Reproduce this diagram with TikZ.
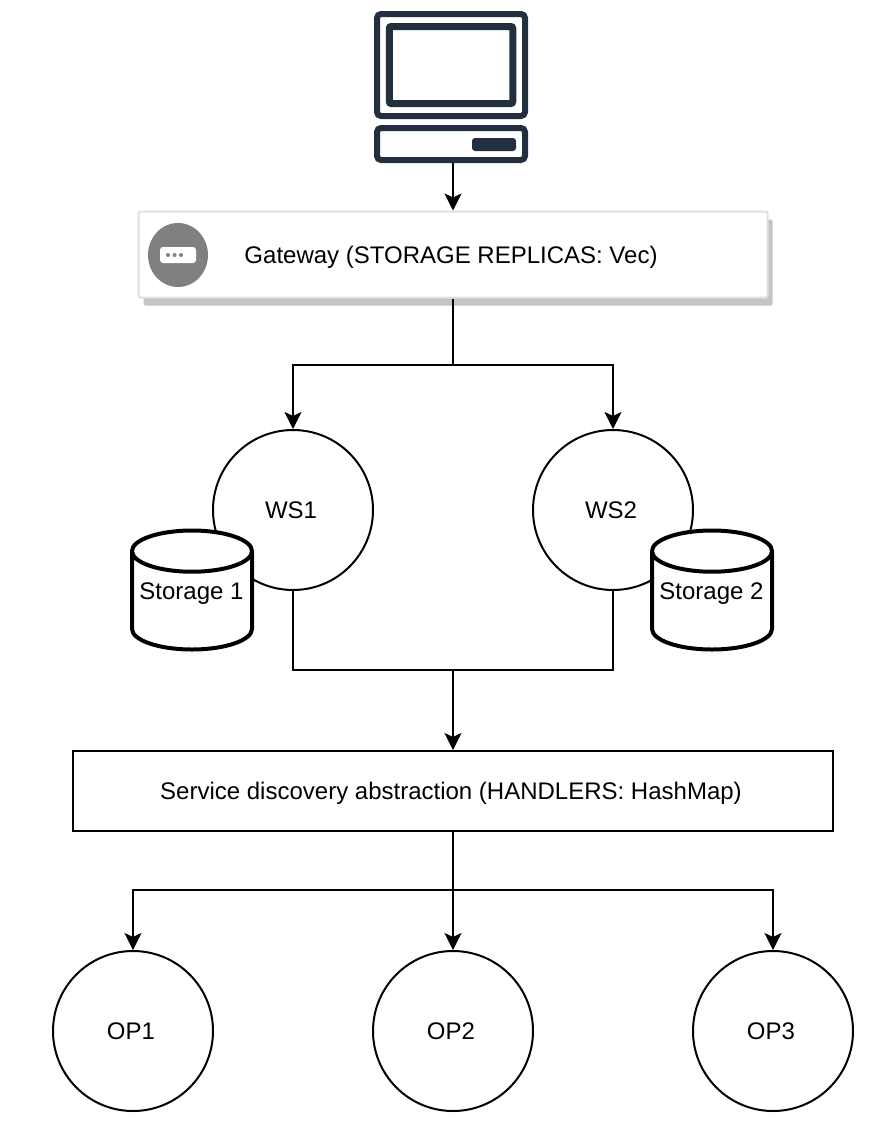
\documentclass[tikz,border=0pt]{standalone}
\usepackage{fontspec}
\setmainfont{Liberation Sans}
\usetikzlibrary{arrows.meta,shapes,shadows}

\definecolor{pcdark}{HTML}{232F3E}
\definecolor{boxedge}{HTML}{E0E0E0}
\definecolor{boxshade}{HTML}{C4C4C4}
\definecolor{msggray}{HTML}{808080}

\newcommand{\lbl}[1]{\hspace*{-4bp}\raisebox{0bp}[17bp][0bp]{#1}}
\newcommand{\lblup}[1]{\hspace*{-1bp}\raisebox{10bp}[17bp][0bp]{#1}}

\tikzset{
  every node/.style={font=\fontsize{24bp}{28bp}\selectfont},
  conn/.style={line width=2bp,-{Stealth[length=17bp,width=17bp,inset=4bp]}},
  plain/.style={line width=2bp},
  proc/.style={draw,circle,line width=2bp,fill=white,minimum size=160bp,inner sep=0pt},
  store/.style={draw,cylinder,shape border rotate=90,aspect=0.4,line width=4bp,fill=white,minimum width=120bp,minimum height=119bp,inner sep=0pt,anchor=shape center},
  pcpart/.style={draw=pcdark,fill=white,rounded corners=4bp,inner sep=0pt},
  dot/.style={circle,fill=msggray,minimum size=4bp,inner sep=0pt},
}

\begin{document}
\begin{tikzpicture}

\useasboundingbox (0bp,0bp) rectangle (894bp,-1140bp);

% computer
\node (case) at (451bp,-65bp)[pcpart,line width=6bp,minimum width=148bp,minimum height=102bp] {};
\node (screen) at (451bp,-65bp)[pcpart,line width=7bp,minimum width=123.5bp,minimum height=77bp,rounded corners=2bp] {};
\node (base) at (451bp,-144bp)[pcpart,line width=6bp,minimum width=148bp,minimum height=32bp] {};
\node (slot) at (494bp,-144.5bp)[pcpart,draw=none,fill=pcdark,minimum width=44bp,minimum height=13bp,rounded corners=3bp] {};

% gateway
\node (gateway) at (453bp,-254.5bp)[draw=boxedge,fill=white,line width=2bp,rounded corners=2bp,minimum width=629bp,minimum height=86bp,inner sep=0pt,
  drop shadow={shadow xshift=5bp,shadow yshift=-8bp,fill=boxshade,opacity=1}] {\lbl{Gateway (STORAGE REPLICAS: Vec)}};
\node (msg) at (178bp,-255bp)[ellipse,fill=msggray,minimum width=60bp,minimum height=64bp,inner sep=0pt] {};
\node (bubble) at (msg)[fill=white,rounded corners=3bp,minimum width=36bp,minimum height=16bp,inner sep=0pt] {};
\node (dot1) at (168bp,-255bp)[dot] {};
\node (dot2) at (174.5bp,-255bp)[dot] {};
\node (dot3) at (181bp,-255bp)[dot] {};

% workers and storage
\node (WS1) at (293bp,-510bp)[proc] {\lbl{WS1}};
\node (WS2) at (613bp,-510bp)[proc] {\lbl{WS2}};
\node (S1) at (192bp,-590bp)[store] {\lblup{Storage 1}};
\node (S2) at (712bp,-590bp)[store] {\lblup{Storage 2}};

% service discovery
\node (service) at (453bp,-791bp)[draw,line width=2bp,minimum width=760bp,minimum height=80bp,inner sep=0pt] {\lbl{Service discovery abstraction (HANDLERS: HashMap)}};

\node (OP1) at (133bp,-1031bp)[proc] {\lbl{OP1}};
\node (OP2) at (453bp,-1031bp)[proc] {\lbl{OP2}};
\node (OP3) at (773bp,-1031bp)[proc] {\lbl{OP3}};

\coordinate (split) at (453bp,-365bp);
\coordinate (merge) at (453bp,-670bp);
\coordinate (fan) at (453bp,-890bp);

\draw [conn] (gateway.north |- base.south) -- (gateway.north);
\draw [plain] (gateway.south) -- (split);
\draw [conn] (split) -| (WS1.north);
\draw [conn] (split) -| (WS2.north);
\draw [plain] (WS1.south) |- (merge);
\draw [plain] (WS2.south) |- (merge);
\draw [conn] (merge) -- (service.north);
\draw [plain] (service.south) -- (fan);
\draw [conn] (fan) -| (OP1.north);
\draw [conn] (fan) -- (OP2.north);
\draw [conn] (fan) -| (OP3.north);
\end{tikzpicture}
\end{document}
